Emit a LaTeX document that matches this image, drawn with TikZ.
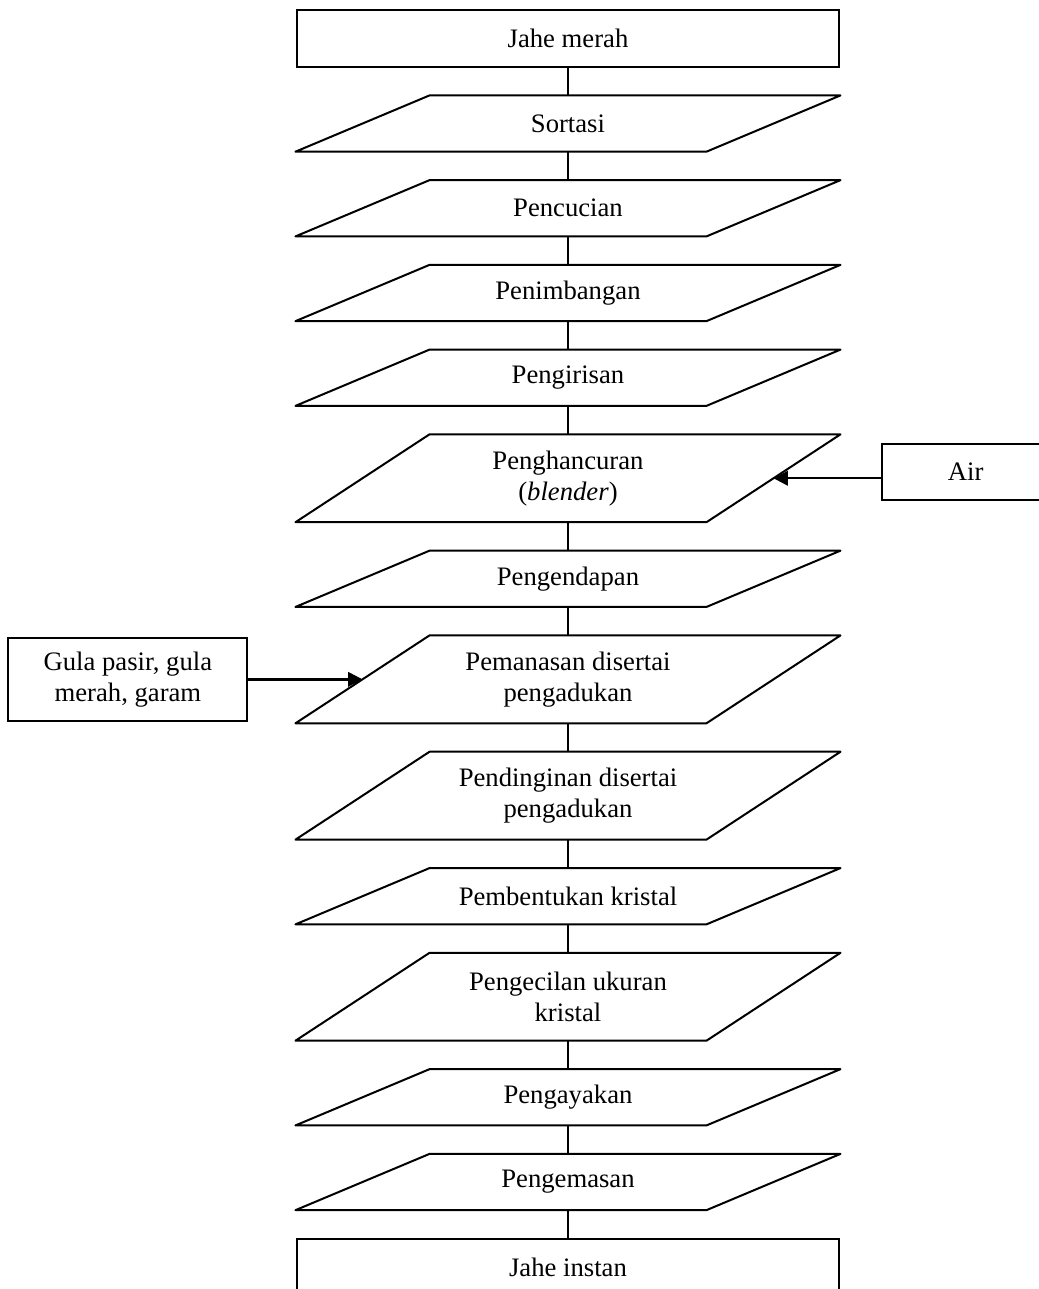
\documentclass[tikz,border=0pt]{standalone}
\usepackage{fontspec}
\setmainfont{Liberation Serif}
\usepackage{tikz}
\usetikzlibrary{arrows.meta,calc,positioning}
\tikzstyle{box}=[draw, line width=0.9pt, minimum width=8.57cm, minimum height=0.9cm]
\tikzstyle{proc}=[minimum width=6.5cm, minimum height=0.89cm]
\tikzstyle{tall}=[proc, minimum height=1.39cm]
\tikzstyle{add}=[draw, line width=0.9pt, minimum height=0.89cm]
\tikzset{para/.style={line width=0.9pt, line join=round},
    line/.style={line width=0.7pt},
    arr/.style={-{Triangle[length=6.5pt,width=6.5pt]}, line width=1.1pt}}

\begin{document}
\begin{tikzpicture}[every text node part/.style={align=center},node distance=0.45cm,
    every node/.style={outer sep=0pt, font=\fontsize{12}{14}\selectfont}]
      \useasboundingbox (-8.983,0.609) rectangle (7.449,-19.777);
      \node [box] (jm) at (0,0) {Jahe merah};
      \node [proc, below=of jm] (srt) {Sortasi};
      \node [proc, below=of srt] (cuci) {Pencucian};
      \node [proc, below=of cuci] (timb) {Penimbangan};
      \node [proc, below=of timb] (iris) {Pengirisan};
      \node [tall, below=of iris] (hcr) {Penghancuran\\(\textit{blender})};
      \node [proc, below=of hcr] (endp) {Pengendapan};
      \node [tall, below=of endp] (pns) {Pemanasan disertai\\pengadukan};
      \node [tall, below=of pns] (ddg) {Pendinginan disertai\\pengadukan};
      \node [proc, below=of ddg] (kris) {Pembentukan kristal};
      \node [tall, below=of kris] (kcl) {Pengecilan ukuran\\ kristal};
      \node [proc, below=of kcl] (ayak) {Pengayakan};
      \node [proc, below=of ayak] (kms) {Pengemasan};
      \node [box, below=of kms] (ji) {Jahe instan};

      % bahan tambahan
      \node [add, minimum width=2.64cm, right=1.72cm of hcr, yshift=0.1cm] (air) {Air};
      \node [add, minimum width=3.78cm, minimum height=1.31cm, left=1.82cm of pns] (gula) {Gula pasir, gula\\merah, garam};

      % jajar genjang
      \foreach \n in {srt,cuci,timb,iris,hcr,endp,pns,ddg,kris,kcl,ayak,kms}
        \draw[para] ([xshift=1.06cm]\n.north west) -- ([xshift=1.06cm]\n.north east)
          -- ([xshift=-1.06cm]\n.south east) -- ([xshift=-1.06cm]\n.south west) -- cycle;

      \foreach \a/\b in {jm/srt,srt/cuci,cuci/timb,timb/iris,iris/hcr,hcr/endp,endp/pns,pns/ddg,ddg/kris,kris/kcl,kcl/ayak,ayak/kms,kms/ji}
        \draw[line] (\a) -- (\b);

      \draw[arr] (air.west |- hcr.east) -- (hcr.east);
      \draw[arr] (gula) -- (pns);
    \end{tikzpicture}
\end{document}
